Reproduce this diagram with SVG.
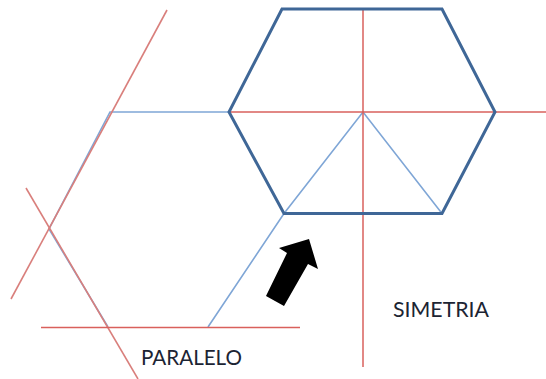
<svg xmlns="http://www.w3.org/2000/svg" width="546" height="379" viewBox="0 0 546 379">
<style>
.hex{fill:none;stroke:#3f6797;stroke-width:3;stroke-linejoin:miter}
.blue{fill:none;stroke:#7fa6d6;stroke-width:1.6}
.red{fill:none;stroke:#d9605c;stroke-width:1.5}
.soft{stroke:#d97f7c;stroke-width:1.6}
.lbl{font-family:Lato,"Liberation Sans",sans-serif;font-size:21px;fill:#1c2433}
</style>
<rect width="546" height="379" fill="#ffffff"/>
<g id="connectors">
<path class="blue" d="M229 112H110L49 229L108 327"/>
<path class="blue" d="M208 327L284 213.5L363 112L442 213.5"/>
<path class="red soft" d="M167 10L11 299"/>
<path class="red soft" d="M26 188L138 379"/>
<path class="red" d="M41 327.5H300"/>
<path class="red" d="M229 112H546"/>
<path class="red" d="M363 9V367"/>
</g>
<g id="hexagon"><path class="hex" d="M282 9H442L495 112L442 213.5H284L229 112Z"/></g>
<g id="arrow"><path d="M309 239L279 248L287 253L266 296L284 306L308 264L318 269Z" fill="#000000"/></g>
<g id="label-paralelo"><text class="lbl" x="141" y="365" textLength="101" lengthAdjust="spacingAndGlyphs">PARALELO</text></g>
<g id="label-simetria"><text class="lbl" x="393" y="317" textLength="96" lengthAdjust="spacingAndGlyphs">SIMETRIA</text></g>
</svg>
